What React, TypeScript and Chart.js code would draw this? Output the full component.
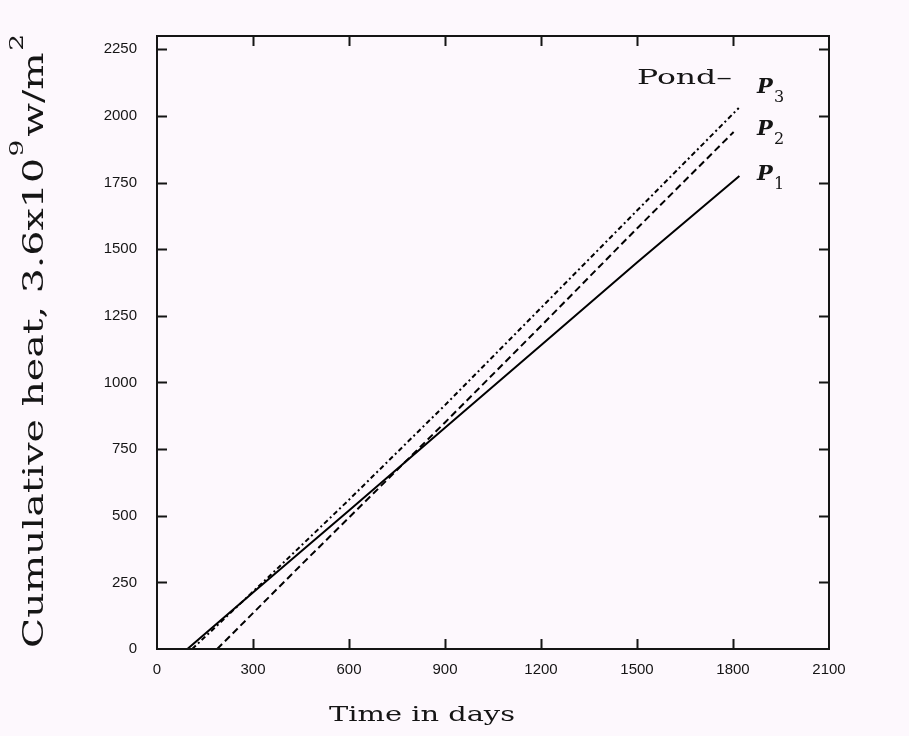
import React, { useEffect, useRef } from 'react';
import { Chart, registerables } from 'chart.js';

Chart.register(...registerables);

// ---- data ----
const xTickValues = [0, 300, 600, 900, 1200, 1500, 1800, 2100];
const yTickValues = [0, 250, 500, 750, 1000, 1250, 1500, 1750, 2000, 2250];

const p1Days = [95, 300, 600, 900, 1200, 1500, 1820];
const p1Heat = [0, 212, 520, 830, 1140, 1450, 1775];

const p2Days = [188, 450, 700, 900, 1200, 1500, 1802];
const p2Heat = [0, 315, 612, 850, 1212, 1578, 1940];

const p3Days = [110, 350, 600, 900, 1200, 1500, 1818];
const p3Heat = [0, 272, 560, 915, 1280, 1645, 2030];

const seriesSubscripts = ['1', '2', '3'];
const labelDay = 1875;
const labelHeat = [1760, 1930, 2085];
const pondText = 'Pond\u2013';
const pondHeat = 2128;

const xTitle = 'Time in days';
const yTitleParts = [
  { text: 'Cumulative heat, 3.6x10', sup: false },
  { text: '9', sup: true },
  { text: 'w/m', sup: false },
  { text: '2', sup: true },
];

const BG = '#fdf8fd';
const INK = '#151515';

const toXY = (xs: number[], ys: number[]) => xs.map((x, i) => ({ x, y: ys[i] }));

const decorPlugin = {
  id: 'decor',
  beforeDraw(chart: any) {
    const { ctx, width, height } = chart;
    ctx.save();
    ctx.fillStyle = BG;
    ctx.fillRect(0, 0, width, height);
    ctx.restore();
  },
  afterDraw(chart: any) {
    const { ctx, chartArea: a } = chart;
    const xs = chart.scales.x;
    const ys = chart.scales.y;
    ctx.save();
    ctx.strokeStyle = INK;
    ctx.lineWidth = 2;
    ctx.strokeRect(a.left, a.top, a.right - a.left, a.bottom - a.top);
    const tl = 10;
    ctx.beginPath();
    xTickValues.forEach((v) => {
      const px = Math.round(xs.getPixelForValue(v)) + 0.5;
      if (px <= a.left + 1 || px >= a.right - 1) return;
      ctx.moveTo(px, a.bottom);
      ctx.lineTo(px, a.bottom - tl);
      ctx.moveTo(px, a.top);
      ctx.lineTo(px, a.top + tl);
    });
    yTickValues.forEach((v) => {
      const py = Math.round(ys.getPixelForValue(v)) + 0.5;
      if (py >= a.bottom - 1 || py <= a.top + 1) return;
      ctx.moveTo(a.left, py);
      ctx.lineTo(a.left + tl, py);
      ctx.moveTo(a.right, py);
      ctx.lineTo(a.right - tl, py);
    });
    ctx.stroke();

    ctx.fillStyle = INK;
    // series end labels
    const lx = xs.getPixelForValue(labelDay);
    seriesSubscripts.forEach((s, i) => {
      const ly = ys.getPixelForValue(labelHeat[i]);
      ctx.font = 'italic bold 21px "DejaVu Serif"';
      ctx.textAlign = 'left';
      ctx.textBaseline = 'alphabetic';
      ctx.fillText('P', lx, ly);
      ctx.font = '16px "DejaVu Serif"';
      ctx.fillText(s, lx + 17, ly + 9);
    });
    // Pond label
    ctx.save();
    ctx.font = '20px "DejaVu Serif"';
    const pw = ctx.measureText(pondText).width;
    const pondRight = lx - 25;
    const pondWidth = 95;
    ctx.translate(pondRight - pondWidth, ys.getPixelForValue(pondHeat) + 2);
    ctx.scale(pondWidth / pw, 1);
    ctx.textAlign = 'left';
    ctx.fillText(pondText, 0, 0);
    ctx.restore();

    // x title
    ctx.save();
    ctx.font = '21px "DejaVu Serif"';
    const xw = ctx.measureText(xTitle).width;
    const targetX = 186;
    ctx.translate(329, 721);
    ctx.scale(targetX / xw, 1);
    ctx.textAlign = 'left';
    ctx.fillText(xTitle, 0, 0);
    ctx.restore();

    // y title (rotated, with superscripts)
    ctx.save();
    const mainFont = '27px "DejaVu Serif"';
    const supFont = '18px "DejaVu Serif"';
    ctx.font = mainFont;
    const mainW = ctx.measureText(yTitleParts[0].text).width;
    const sx = 490 / mainW;
    ctx.translate(43, a.bottom - 1);
    ctx.rotate(-Math.PI / 2);
    ctx.scale(sx, 1);
    ctx.textAlign = 'left';
    let cx = 0;
    yTitleParts.forEach((p) => {
      ctx.font = p.sup ? supFont : mainFont;
      const dy = p.sup ? -20 : 0;
      if (p.sup) cx += 1;
      ctx.fillText(p.text, cx, dy);
      cx += ctx.measureText(p.text).width + (p.sup ? 2 : 0);
    });
    ctx.restore();
    ctx.restore();
  },
};

export default function App() {
  const ref = useRef<HTMLCanvasElement | null>(null);
  useEffect(() => {
    document.body.style.margin = '0';
    document.body.style.background = BG;
    const canvas = ref.current;
    if (!canvas) return;
    const common = { borderColor: '#000', borderWidth: 2, pointRadius: 0, tension: 0, fill: false };
    const tickFont = { family: '"Liberation Sans", sans-serif', size: 15 };
    const chart = new Chart(canvas, {
      type: 'line',
      data: {
        datasets: [
          { label: 'P1', data: toXY(p1Days, p1Heat), ...common },
          { label: 'P2', data: toXY(p2Days, p2Heat), ...common, borderDash: [7, 4] },
          { label: 'P3', data: toXY(p3Days, p3Heat), ...common, borderDash: [5, 3, 2, 3] },
        ],
      },
      options: {
        animation: false,
        responsive: false,
        devicePixelRatio: 1,
        layout: { padding: { left: 0, right: 80, top: 36, bottom: 0 } },
        plugins: { legend: { display: false }, tooltip: { enabled: false } },
        scales: {
          x: {
            type: 'linear',
            min: 0,
            max: 2100,
            afterBuildTicks: (s: any) => {
              s.ticks = xTickValues.map((v) => ({ value: v }));
            },
            afterFit: (s: any) => {
              s.height = 87;
            },
            grid: { display: false, drawTicks: false },
            border: { display: false },
            ticks: {
              autoSkip: false,
              maxRotation: 0,
              padding: 12,
              color: INK,
              font: tickFont,
              callback: (v: any) => String(v),
            },
          },
          y: {
            type: 'linear',
            min: 0,
            max: 2300,
            afterBuildTicks: (s: any) => {
              s.ticks = yTickValues.map((v) => ({ value: v }));
            },
            afterFit: (s: any) => {
              s.width = 157;
            },
            grid: { display: false, drawTicks: false },
            border: { display: false },
            ticks: {
              autoSkip: false,
              padding: 20,
              color: INK,
              font: tickFont,
              callback: (v: any) => String(v),
            },
          },
        },
      },
      plugins: [decorPlugin],
    } as any);
    return () => chart.destroy();
  }, []);
  return (
    <div style={{ width: 909, height: 736, background: BG }}>
      <canvas ref={ref} width={909} height={736} />
    </div>
  );
}
